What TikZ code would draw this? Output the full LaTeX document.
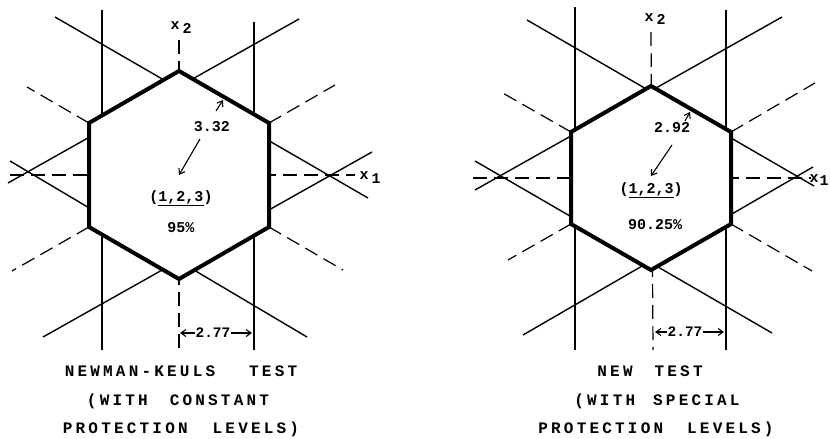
\documentclass[tikz,border=0pt]{standalone}
\usepackage{fontspec}
\usetikzlibrary{arrows.meta}
\newfontfamily\tw{Liberation Mono}
\newfontfamily\twsp{Liberation Mono}[LetterSpace=20]
\begin{document}
\begin{tikzpicture}[x=1pt,y=-1pt,
  ln/.style={line width=1.4pt},
  dsh/.style={line width=1.2pt, dash pattern=on 14pt off 7pt},
  thk/.style={line width=4pt, line join=miter},
  arr/.style={line width=1.1pt, -{Straight Barb[length=5pt,width=7pt]}},
  lbl/.style={inner sep=0pt, font=\fontsize{15pt}{17pt}\selectfont\tw\bfseries},
  dim/.style={inner sep=0pt, font=\fontsize{14.5pt}{16pt}\selectfont\tw\bfseries},
  ttl/.style={inner sep=0pt, anchor=base, font=\fontsize{16pt}{18pt}\selectfont\twsp\bfseries}]
\useasboundingbox (0,0) rectangle (830,439);
\fill[white] (0,0) rectangle (830,439);

% ---------------- left diagram ----------------
\begin{scope}[shift={(179,175)}]
  \draw[ln] (-77,-165) -- (-77,175);
  \draw[ln] (75,-153) -- (75,175);
  \draw[ln] (-124,-158) -- (189,23);
  \draw[ln] (120,-156) -- (-171,8);
  \draw[ln] (-136,162) -- (193,-23);
  \draw[ln] (128,162) -- (-169,-14);
  \draw[dsh] (0,-135) -- (0,177);
  \draw[dsh] (-169,0) -- (176,0);
  \draw[dsh] (-90,-52) -- (-152,-88);
  \draw[dsh] (90,-52) -- (156,-90);
  \draw[dsh] (90,52) -- (164,95);
  \draw[dsh] (-90,52) -- (-167,96);
  \filldraw[thk, fill=white] (0,-104) -- (90,-52) -- (90,52) -- (0,104) -- (-90,52) -- (-90,-52) -- cycle;
\end{scope}
\node[lbl] (x2a) at (181,28) {x\hspace{3pt}\raisebox{-4pt}{2}};
\node[lbl] (x1a) at (370,178) {x\hspace{3pt}\raisebox{-4pt}{1}};
\node[lbl] (v332) at (212,127) {3.32};
\coordinate (s332) at (216,111);
\coordinate (t332) at (223,100);
\draw[arr] (s332) -- (t332);
\coordinate (s332b) at (200,139);
\coordinate (t332b) at (179,175);
\draw[arr] (s332b) -- (t332b);
\node[lbl] (ga) at (181,198) {(\underline{1,2,3})};
\node[lbl] (pa) at (181,228) {95\%};
\node[dim] (da) at (213,333) {2.77};
\coordinate (dal) at (180,333);
\coordinate (dar) at (252,333);
\draw[arr] (da.west) -- (dal);
\draw[arr] (da.east) -- (dar);
\node[ttl] (ta1) at (181,376) {NEWMAN-KEULS\hspace{34pt}TEST};
\node[ttl] (ta2) at (178,405) {(WITH\hspace{22pt}CONSTANT};
\node[ttl] (ta3) at (181,433) {PROTECTION\hspace{25pt}LEVELS)};

% ---------------- right diagram ----------------
\begin{scope}[shift={(651,178)}]
  \draw[ln] (-76,-171) -- (-76,172);
  \draw[ln] (75,-168) -- (75,172);
  \draw[ln] (-124,-158) -- (163,8);
  \draw[ln] (131,-161) -- (-176,12);
  \draw[ln] (-128,157) -- (162,-11);
  \draw[ln] (121,155) -- (-176,-17);
  \draw[dsh] (0,-146) -- (2,172);
  \draw[dsh] (-178,0) -- (160,0);
  \draw[dsh] (-80,-46) -- (-150,-86);
  \draw[dsh] (80,-46) -- (164,-95);
  \draw[dsh] (80,46) -- (161,93);
  \draw[dsh] (-80,46) -- (-143,82);
  \filldraw[thk, fill=white] (0,-92) -- (80,-46) -- (80,46) -- (0,92) -- (-80,46) -- (-80,-46) -- cycle;
\end{scope}
\node[lbl] (x2b) at (655,19) {x\hspace{3pt}\raisebox{-3pt}{2}};
\node[lbl] (x1b) at (819,180) {x\hspace{1pt}\raisebox{-3pt}{1}};
\node[lbl] (v292) at (672,128) {2.92};
\coordinate (s292) at (685,121);
\coordinate (t292) at (690,112);
\draw[arr] (s292) -- (t292);
\coordinate (s292b) at (672,145);
\coordinate (t292b) at (651,176);
\draw[arr] (s292b) -- (t292b);
\node[lbl] (gb) at (651,190) {(\underline{1,2,3})};
\node[lbl] (pb) at (655,225) {90.25\%};
\node[dim] (db) at (685,332) {2.77};
\coordinate (dbl) at (655,332);
\coordinate (dbr) at (724,332);
\draw[arr] (db.west) -- (dbl);
\draw[arr] (db.east) -- (dbr);
\node[ttl] (tb1) at (650,376) {NEW\hspace{22pt}TEST};
\node[ttl] (tb2) at (657,405) {(WITH\hspace{18pt}SPECIAL};
\node[ttl] (tb3) at (656,433) {PROTECTION\hspace{24pt}LEVELS)};
\end{tikzpicture}
\end{document}
